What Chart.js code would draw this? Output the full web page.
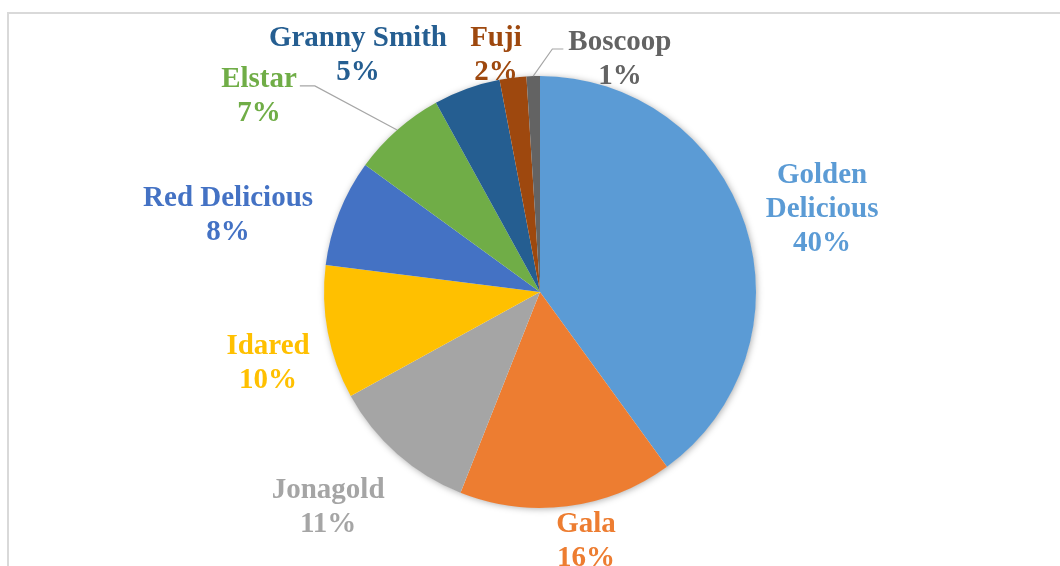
<!DOCTYPE html>
<html>
<head>
<meta charset="utf-8">
<script src="https://cdn.jsdelivr.net/npm/chart.js@4/dist/chart.umd.min.js"></script>
<style>
  html, body { margin: 0; padding: 0; background: #ffffff; }
  #frame {
    position: absolute; left: 7px; top: 12px; width: 1100px; height: 600px;
    border-top: 2px solid #d9d9d9; border-left: 2px solid #d9d9d9;
    box-sizing: border-box;
  }
  #wrap { position: absolute; left: 0; top: 0; width: 1060px; height: 566px; }
</style>
</head>
<body>
<div id="frame"></div>
<div id="wrap"><canvas id="applePie" aria-label="Apple varieties pie chart" role="img"></canvas></div>
<script>
// apple varieties, share in percent
const varieties = ['Golden Delicious', 'Gala', 'Jonagold', 'Idared', 'Red Delicious',
                   'Elstar', 'Granny Smith', 'Fuji', 'Boscoop'];
const shares = [40, 16, 11, 10, 8, 7, 5, 2, 1];
const sliceColors = ['#5B9BD5', '#ED7D31', '#A5A5A5', '#FFC000', '#4472C4',
                     '#70AD47', '#255E91', '#9E480E', '#636363'];

// where each label sits, relative to the pie centre in units of the radius
const labelSpots = [
  [1.306, -0.394], [0.213, 1.139], [-0.981, 0.986], [-1.259, 0.315], [-1.444, -0.366],
  [-1.301, -0.917], [-0.843, -1.111], [-0.204, -1.111], [0.370, -1.088]
];
// labels broken over several lines
const labelLines = { 'Golden Delicious': ['Golden', 'Delicious'] };
// labels connected to their slice with a leader line ('right' / 'left' = side of the text)
const leaders = { 'Elstar': 'right', 'Boscoop': 'left' };

const FONT = 'bold 29px "Liberation Serif", "Times New Roman", serif';
const LINE_H = 34;
const TEXT_NUDGE = 3;   // 'middle' baseline sits a bit high for serif caps

// soft drop shadow under the whole pie
const pieShadow = {
  id: 'pieShadow',
  beforeDatasetsDraw(chart) {
    const arc = chart.getDatasetMeta(0).data[0];
    if (!arc) return;
    const ctx = chart.ctx;
    ctx.save();
    ctx.shadowColor = 'rgba(0,0,0,0.35)';
    ctx.shadowBlur = 7;
    ctx.shadowOffsetX = 1;
    ctx.shadowOffsetY = 1;
    ctx.fillStyle = '#ffffff';
    ctx.beginPath();
    ctx.arc(arc.x, arc.y, arc.outerRadius - 0.5, 0, Math.PI * 2);
    ctx.fill();
    ctx.restore();
  }
};

// category name + percentage outside the pie
const outsideLabels = {
  id: 'outsideLabels',
  afterDatasetsDraw(chart) {
    const ctx = chart.ctx;
    const meta = chart.getDatasetMeta(0);
    const values = chart.data.datasets[0].data;
    const total = values.reduce((a, b) => a + b, 0);
    ctx.save();
    ctx.font = FONT;
    ctx.textAlign = 'center';
    ctx.textBaseline = 'middle';
    meta.data.forEach((arc, i) => {
      const name = chart.data.labels[i];
      const r = arc.outerRadius;
      const cx = arc.x + labelSpots[i][0] * r;
      const cy = arc.y + labelSpots[i][1] * r;
      const lines = (labelLines[name] || [name]).concat(Math.round(values[i] / total * 100) + '%');
      const top = cy - (lines.length - 1) * LINE_H / 2;
      ctx.fillStyle = sliceColors[i];
      lines.forEach((t, k) => ctx.fillText(t, cx, top + k * LINE_H + TEXT_NUDGE));

      const side = leaders[name];
      if (side) {
        const halfW = ctx.measureText(lines[0]).width / 2;
        const ly = top + 9;
        const x0 = side === 'right' ? cx + halfW + 3 : cx - halfW - 5;
        const x1 = side === 'right' ? x0 + 15 : x0 - 11;
        const mid = (arc.startAngle + arc.endAngle) / 2;
        ctx.strokeStyle = '#a6a6a6';
        ctx.lineWidth = 1.2;
        ctx.beginPath();
        ctx.moveTo(x0, ly);
        ctx.lineTo(x1, ly);
        ctx.lineTo(arc.x + Math.cos(mid) * r, arc.y + Math.sin(mid) * r);
        ctx.stroke();
      }
    });
    ctx.restore();
  }
};

new Chart(document.getElementById('applePie'), {
  type: 'pie',
  data: {
    labels: varieties,
    datasets: [{
      data: shares,
      backgroundColor: sliceColors,
      borderWidth: 0,
      hoverOffset: 0
    }]
  },
  options: {
    responsive: true,
    maintainAspectRatio: false,
    animation: false,
    events: [],
    layout: { padding: { top: 76, bottom: 58, left: 20, right: 0 } },
    plugins: {
      legend: { display: false },
      tooltip: { enabled: false }
    }
  },
  plugins: [pieShadow, outsideLabels]
});
</script>
</body>
</html>
